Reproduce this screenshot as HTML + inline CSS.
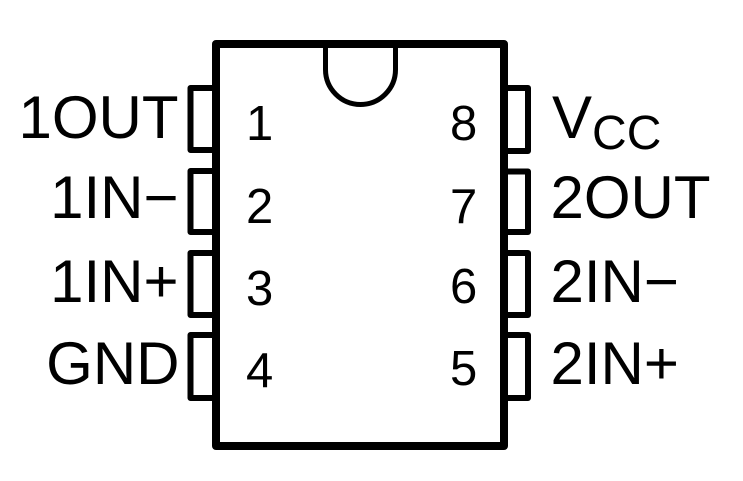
<!DOCTYPE html>
<html>
<head>
<meta charset="utf-8">
<style>
  html,body{margin:0;padding:0;background:#fff;}
  svg{display:block;}
  text{font-family:"Liberation Sans",Arial,sans-serif;fill:#000;}
</style>
</head>
<body>
<svg width="743" height="481" viewBox="0 0 743 481" xmlns="http://www.w3.org/2000/svg">
  <rect x="0" y="0" width="743" height="481" fill="#fff"/>
  <!-- body -->
  <rect x="216" y="44" width="288" height="402" fill="none" stroke="#000" stroke-width="8" stroke-linejoin="round"/>
  <!-- notch -->
  <path d="M325.5 48 L325.5 69.5 A35 35 0 0 0 395.5 69.5 L395.5 48" fill="none" stroke="#000" stroke-width="5"/>
  <!-- left tabs -->
  <g fill="none" stroke="#000" stroke-width="6" stroke-linejoin="round">
    <path d="M216 88 L190.5 88 L190.5 150 L216 150"/>
    <path d="M216 171 L190.5 171 L190.5 232 L216 232"/>
    <path d="M216 253 L190.5 253 L190.5 315 L216 315"/>
    <path d="M216 335 L190.5 335 L190.5 398 L216 398"/>
    <!-- right tabs -->
    <path d="M504 88 L528 88 L528 151 L504 151"/>
    <path d="M504 171.5 L528 171.5 L528 232 L504 232"/>
    <path d="M504 253 L528 253 L528 315 L504 315"/>
    <path d="M504 335 L528 335 L528 398 L504 398"/>
  </g>
  <!-- left labels -->
  <g font-size="60" text-anchor="end">
    <text x="178.5" y="138">1OUT</text>
    <text x="178.5" y="218">1IN−</text>
    <text x="178.5" y="302">1IN+</text>
    <text x="179.5" y="384">GND</text>
  </g>
  <!-- right labels -->
  <g font-size="60">
    <text x="552" y="138">V<tspan font-size="48" dy="11">CC</tspan></text>
    <text x="550.5" y="218">2OUT</text>
    <text x="550.5" y="302">2IN−</text>
    <text x="550.5" y="384">2IN+</text>
  </g>
  <!-- pin numbers -->
  <g font-size="49">
    <text x="246" y="140">1</text>
    <text x="246" y="223">2</text>
    <text x="246" y="305">3</text>
    <text x="246" y="387">4</text>
    <text x="450" y="140">8</text>
    <text x="450" y="223">7</text>
    <text x="450" y="303">6</text>
    <text x="450" y="385">5</text>
  </g>
</svg>
</body>
</html>
